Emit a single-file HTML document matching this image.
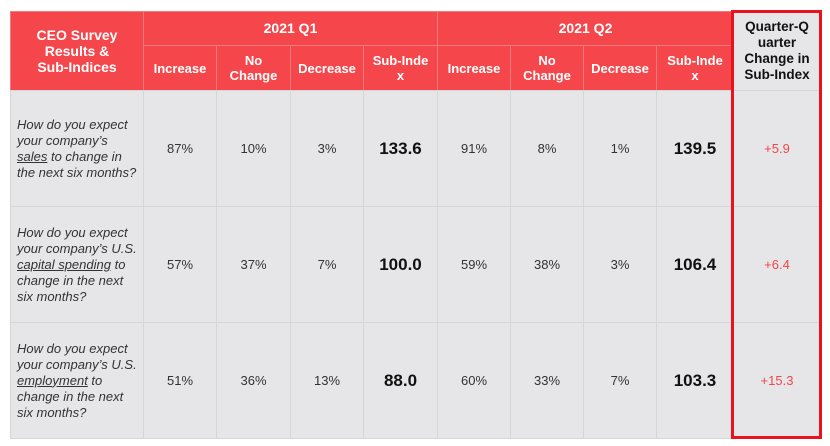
<!DOCTYPE html>
<html><head><meta charset="utf-8"><style>
body{margin:0;width:830px;height:446px;background:#fff;position:relative;overflow:hidden;font-family:"Liberation Sans",sans-serif}
.c{position:absolute;box-sizing:border-box;display:flex;align-items:center;justify-content:center;text-align:center;background:#e6e6e8;color:#333;font-size:13px;line-height:15px;border:1px solid #d6d6d8}
.h{background:#f5474b;color:#fff;font-weight:bold;border-color:#f37a7c}
.q{justify-content:flex-start;text-align:left;font-style:italic;padding-left:6px;font-size:13px;line-height:16px}
.q span{display:block}
.b{font-weight:bold;font-size:17px;color:#111}
.r{color:#f0474b}
#box{position:absolute;left:731px;top:10px;width:91px;height:429px;border:3px solid #e8131d;box-sizing:border-box}
</style></head><body>
<div>
<div class="c h" style="left:10px;top:11px;width:134px;height:80px;font-size:14px;line-height:16px">CEO Survey<br>Results &amp;<br>Sub-Indices</div>
<div class="c h" style="left:143px;top:11px;width:295px;height:35px;font-size:14px">2021 Q1</div>
<div class="c h" style="left:437px;top:11px;width:297px;height:35px;font-size:14px">2021 Q2</div>
<div class="c" style="left:733px;top:11px;width:88px;height:80px;font-weight:bold;color:#111;font-size:13.5px;line-height:16px">Quarter-Q<br>uarter<br>Change in<br>Sub-Index</div>
<div id="rows"></div>
</div>
<div id="box"></div>
<script>
const subHeaders=["Increase","No<br>Change","Decrease","Sub-Inde<br>x"];
const questions=["How do you expect your company’s <u>sales</u> to change in the next six months?","How do you expect your company’s U.S. <u>capital spending</u> to change in the next six months?","How do you expect your company’s U.S. <u>employment</u> to change in the next six months?"];
const q1=[["87%","10%","3%","133.6"],["57%","37%","7%","100.0"],["51%","36%","13%","88.0"]];
const q2=[["91%","8%","1%","139.5"],["59%","38%","3%","106.4"],["60%","33%","7%","103.3"]];
const change=["+5.9","+6.4","+15.3"];
const colX=[143,216,290,363,437,510,583,656,733];
const rowY=[90,206,322,438];
const root=document.getElementById('rows');
function cell(x,y,w,h,cls,html,name){const d=document.createElement('div');d.className='c '+cls;d.style.cssText=`left:${x}px;top:${y}px;width:${w}px;height:${h}px`;d.innerHTML=html;


root.appendChild(d);return d;}
for(let i=0;i<8;i++){cell(colX[i],45,colX[i+1]-colX[i]+1,46,'h',subHeaders[i%4],'subheader-'+(i<4?'q1':'q2')+'-'+(i%4));}
for(let r=0;r<3;r++){const y=rowY[r],h=rowY[r+1]-y+1;
const qc=cell(10,y,134,h,'q','<span>'+questions[r]+'</span>','question-'+(r+1));qc.style.paddingRight='4px';
const vals=q1[r].concat(q2[r]);
for(let i=0;i<8;i++){cell(colX[i],y,colX[i+1]-colX[i]+1,h,(i%4==3)?'b':'',vals[i],'value-r'+(r+1)+'-c'+(i+1));}
cell(733,y,88,h,'r',change[r],'qoq-change-'+(r+1));}
</script>
</body></html>
